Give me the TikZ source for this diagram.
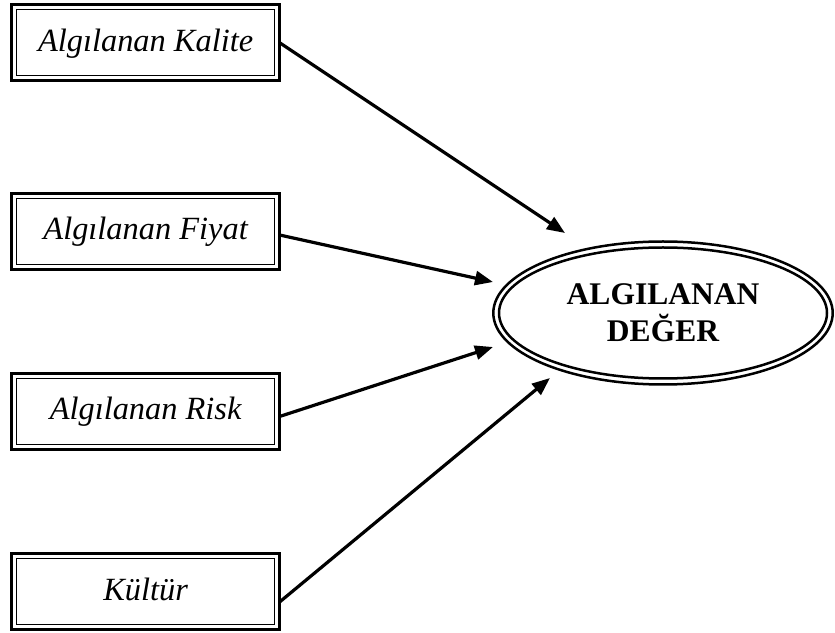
\documentclass[tikz,border=0pt]{standalone}
\usepackage{fontspec}
\setmainfont{Liberation Serif}
\usetikzlibrary{arrows.meta,shapes.geometric}

\tikzset{
  factor/.style={draw, line width=3.3pt, outer sep=0pt, rectangle,
    minimum width=268pt, minimum height=76pt, inner sep=0pt,
    text height=24pt, text depth=7pt,
    font=\fontsize{32.4}{37}\selectfont\itshape},
  innerframe/.style={line width=1.4pt},
  outcome/.style={ellipse, draw, line width=2.5pt, outer sep=0pt,
    minimum width=339.4pt, minimum height=143pt, inner sep=0pt,
    align=center, font=\fontsize{31.5}{37}\selectfont\bfseries},
  innerring/.style={ellipse, draw, line width=2.5pt,
    minimum width=328pt, minimum height=131pt},
  link/.style={line width=3.2pt,
    -{Triangle[length=18pt,width=14pt]}}
}

\begin{document}
\begin{tikzpicture}[x=1pt,y=1pt]
  \useasboundingbox (0,0) rectangle (835,632);

  % four antecedent factors, each framed by a thick and a thin line
  \node[factor] (b1) at (145.6,589.3) {Algılanan Kalite};
  \node[factor] (b2) at (145.6,400.5) {Algılanan Fiyat};
  \node[factor] (b3) at (145.6,220.5) {Algılanan Risk};
  \node[factor] (b4) at (145.6,40.5)  {Kültür};
  \foreach \n in {b1,b2,b3,b4}
    \draw[innerframe] ([shift={(5pt,-5pt)}]\n.north west)
      rectangle ([shift={(-5pt,5pt)}]\n.south east);

  % perceived value, drawn as a double ellipse
  \node[outcome] (v) at (663,319) {ALGILANAN\\DEĞER};
  \node[innerring] (vi) at (v.center) {};

  % arrow tips stop short of the ellipse
  \coordinate (t1) at ([shift={(-98pt,80pt)}]v.center);
  \coordinate (t2) at ([shift={(-170pt,31pt)}]v.center);
  \coordinate (t3) at ([shift={(-170pt,-34pt)}]v.center);
  \coordinate (t4) at ([shift={(-113pt,-65pt)}]v.center);

  \draw[link] (b1.east) -- (t1);
  \draw[link] ([yshift=-3.5pt]b2.east) -- (t2);
  \draw[link] ([yshift=-5pt]b3.east) -- (t3);
  \draw[link] ([yshift=-10.5pt]b4.east) -- (t4);
\end{tikzpicture}
\end{document}
